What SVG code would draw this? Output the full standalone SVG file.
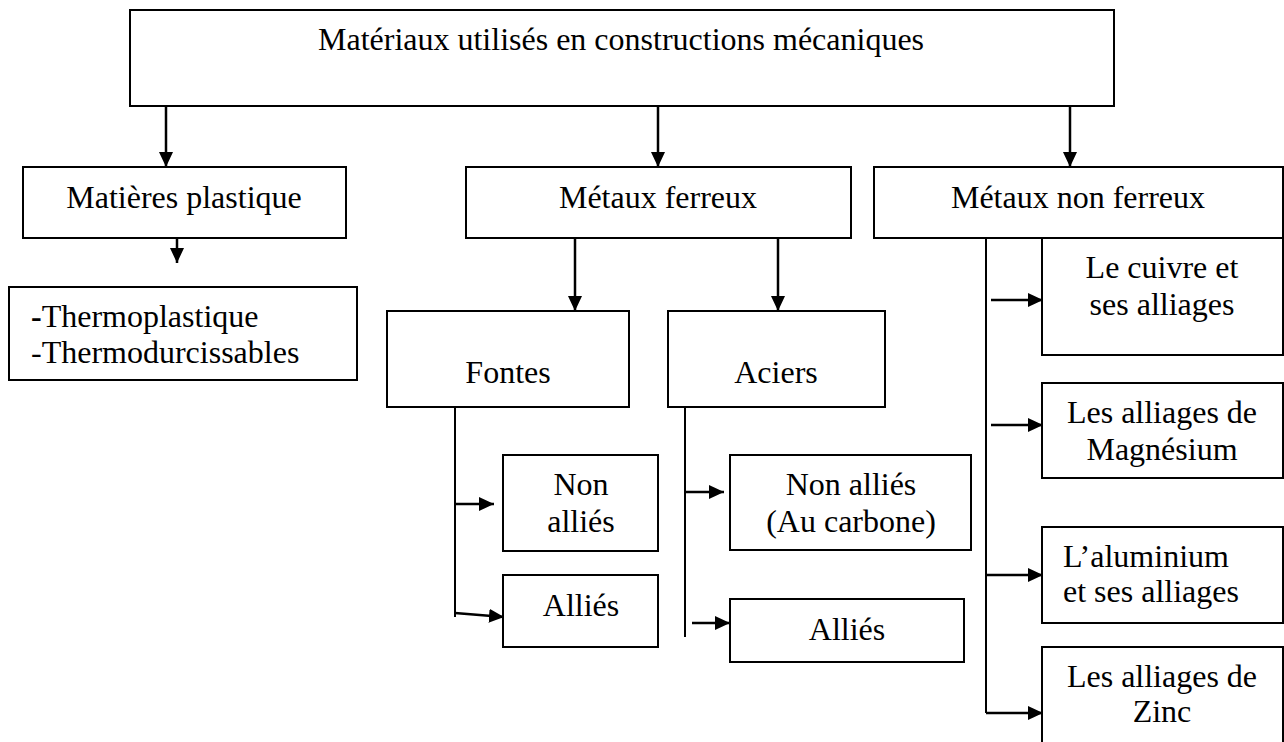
<svg xmlns="http://www.w3.org/2000/svg" width="1284" height="742" viewBox="0 0 1284 742">
<style>
.box{fill:#fff;stroke:#000;stroke-width:2}
.t{font-family:"Liberation Serif","Times New Roman",serif;font-size:32px;fill:#000}
.c{text-anchor:middle}
.ln{stroke:#000;stroke-width:2;fill:none}
.ar{stroke:#000;stroke-width:2.5;fill:none;marker-end:url(#ah)}
</style>
<defs>
<marker id="ah" markerUnits="userSpaceOnUse" markerWidth="16" markerHeight="14" refX="15" refY="7" orient="auto">
<path d="M0,0 L15,7 L0,14 z" fill="#000"/>
</marker>
</defs>
<rect width="1284" height="742" fill="#fff"/>
<g id="connectors">
<line class="ar" x1="166" y1="106" x2="166" y2="167"/>
<line class="ar" x1="658" y1="106" x2="658" y2="167"/>
<line class="ar" x1="1070" y1="106" x2="1070" y2="167"/>
<line class="ar" x1="177" y1="238" x2="177" y2="263"/>
<line class="ar" x1="575" y1="238" x2="575" y2="311"/>
<line class="ar" x1="778" y1="238" x2="778" y2="311"/>
<line class="ln" x1="455" y1="407" x2="455" y2="617"/>
<line class="ar" x1="455" y1="504" x2="494" y2="504"/>
<line class="ar" x1="455" y1="613" x2="504" y2="617"/>
<line class="ln" x1="685" y1="407" x2="685" y2="637"/>
<line class="ar" x1="685" y1="492" x2="724" y2="492"/>
<line class="ar" x1="692" y1="623" x2="730" y2="623"/>
<line class="ln" x1="986" y1="238" x2="986" y2="713"/>
<line class="ar" x1="991" y1="300" x2="1043" y2="300"/>
<line class="ar" x1="991" y1="425" x2="1043" y2="425"/>
<line class="ar" x1="986" y1="575" x2="1043" y2="575"/>
<line class="ar" x1="986" y1="713" x2="1043" y2="713"/>
</g>
<g id="n-root">
<rect class="box" x="130" y="10" width="984" height="96"/>
<text class="t c" x="621" y="50">Matériaux utilisés en constructions mécaniques</text>
</g>
<g id="n-plastique">
<rect class="box" x="23" y="167" width="323" height="71"/>
<text class="t c" x="184" y="208">Matières plastique</text>
</g>
<g id="n-ferreux">
<rect class="box" x="466" y="167" width="385" height="71"/>
<text class="t c" x="658" y="208">Métaux ferreux</text>
</g>
<g id="n-nonferreux">
<rect class="box" x="874" y="167" width="409" height="71"/>
<text class="t c" x="1078" y="208">Métaux non ferreux</text>
</g>
<g id="n-thermo">
<rect class="box" x="9" y="287" width="348" height="93"/>
<text class="t" x="31" y="327"><tspan font-weight="bold">-</tspan>Thermoplastique</text>
<text class="t" x="31" y="363">-Thermodurcissables</text>
</g>
<g id="n-fontes">
<rect class="box" x="387" y="311" width="242" height="96"/>
<text class="t c" x="508" y="383">Fontes</text>
</g>
<g id="n-aciers">
<rect class="box" x="668" y="311" width="217" height="96"/>
<text class="t c" x="776" y="383">Aciers</text>
</g>
<g id="n-fontes-nonallies">
<rect class="box" x="503" y="455" width="155" height="96"/>
<text class="t c" x="581" y="495">Non</text>
<text class="t c" x="581" y="532">alliés</text>
</g>
<g id="n-fontes-allies">
<rect class="box" x="503" y="575" width="155" height="72"/>
<text class="t c" x="581" y="616">Alliés</text>
</g>
<g id="n-aciers-nonallies">
<rect class="box" x="730" y="455" width="241" height="95"/>
<text class="t c" x="851" y="495">Non alliés</text>
<text class="t c" x="851" y="532">(Au carbone)</text>
</g>
<g id="n-aciers-allies">
<rect class="box" x="730" y="599" width="234" height="63"/>
<text class="t c" x="847" y="640">Alliés</text>
</g>
<g id="n-cuivre">
<rect class="box" x="1042" y="238" width="241" height="117"/>
<text class="t c" x="1162" y="278">Le cuivre et</text>
<text class="t c" x="1162" y="315">ses alliages</text>
</g>
<g id="n-magnesium">
<rect class="box" x="1042" y="383" width="241" height="95"/>
<text class="t c" x="1162" y="423">Les alliages de</text>
<text class="t c" x="1162" y="460">Magnésium</text>
</g>
<g id="n-aluminium">
<rect class="box" x="1042" y="527" width="241" height="96"/>
<text class="t" x="1063" y="567">L’aluminium</text>
<text class="t" x="1063" y="602">et ses alliages</text>
</g>
<g id="n-zinc">
<rect class="box" x="1042" y="647" width="241" height="100"/>
<text class="t c" x="1162" y="687">Les alliages de</text>
<text class="t c" x="1162" y="722">Zinc</text>
</g>
</svg>
